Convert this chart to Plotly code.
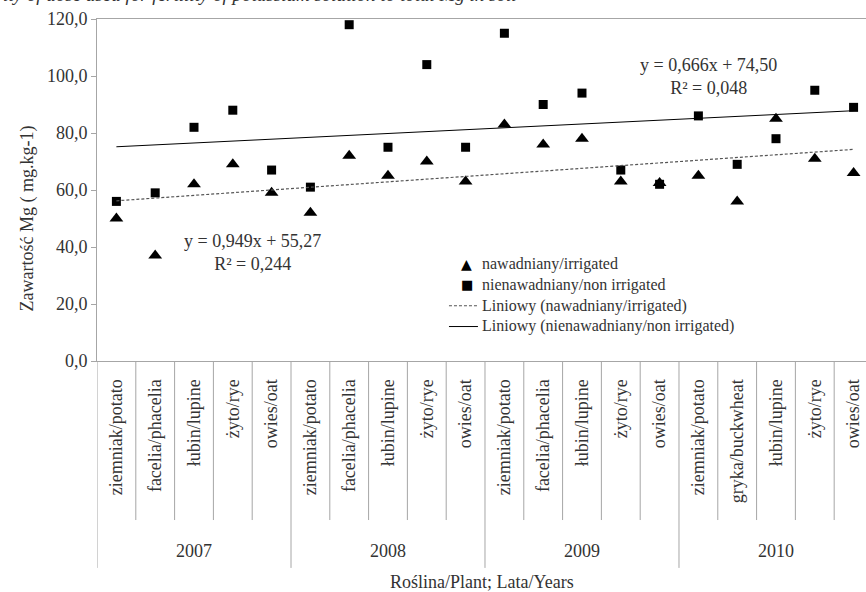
import plotly.graph_objects as go

# Crops per year (categorical x axis, grouped by year)
years = ["2007", "2008", "2009", "2010"]
crops_by_year = [
    ["ziemniak/potato", "facelia/phacelia", "łubin/lupine", "żyto/rye", "owies/oat"],
    ["ziemniak/potato", "facelia/phacelia", "łubin/lupine", "żyto/rye", "owies/oat"],
    ["ziemniak/potato", "facelia/phacelia", "łubin/lupine", "żyto/rye", "owies/oat"],
    ["ziemniak/potato", "gryka/buckwheat", "łubin/lupine", "żyto/rye", "owies/oat"],
]
categories = [c for group in crops_by_year for c in group]

# Mg content, mg.kg-1
irrigated = [50, 37, 62, 69, 59, 52, 72, 65, 70, 63, 83, 76, 78, 63, 62.5, 65, 56, 85, 71, 66]
non_irrigated = [56, 59, 82, 88, 67, 61, 118, 75, 104, 75, 115, 90, 94, 67, 62, 86, 69, 78, 95, 89]

# Linear trend coefficients (x = 1..20)
trend_irr = (0.949, 55.27, 0.244)
trend_non = (0.666, 74.50, 0.048)

y_ticks = [0, 20, 40, 60, 80, 100, 120]

series_names = [
    "nawadniany/irrigated",
    "nienawadniany/non irrigated",
    "Liniowy (nawadniany/irrigated)",
    "Liniowy (nienawadniany/non irrigated)",
]

FONT = "Liberation Serif"
FS = 18
LEG_FS = 16
GREY = "#a6a6a6"
TXT = "#333333"
DOT = dict(color="#555555", width=1.2, dash="3px,2px")
SOLID = dict(color="black", width=1)

idx = list(range(len(categories)))
fig = go.Figure()

fig.add_trace(go.Scatter(
    x=idx, y=irrigated, mode="markers", name=series_names[0],
    marker=dict(symbol="triangle-up", size=12, color="black"),
))
fig.add_trace(go.Scatter(
    x=idx, y=non_irrigated, mode="markers", name=series_names[1],
    marker=dict(symbol="square", size=9, color="black"),
))
fig.add_trace(go.Scatter(
    x=idx, y=[trend_irr[0] * (i + 1) + trend_irr[1] for i in idx], mode="lines",
    name=series_names[2], line=DOT,
))
fig.add_trace(go.Scatter(
    x=idx, y=[trend_non[0] * (i + 1) + trend_non[1] for i in idx], mode="lines",
    name=series_names[3], line=SOLID,
))

def fmt(v, d):
    return f"{v:.{d}f}".replace(".", ",")

def font(size=FS, family=FONT):
    return dict(family=family, size=size, color=TXT)

# Trend equations
fig.add_annotation(x=3.5, y=38.2, xref="x", yref="y", showarrow=False,
                   text=f"y = {fmt(trend_irr[0],3)}x + {fmt(trend_irr[1],2)}<br>R² = {fmt(trend_irr[2],3)}",
                   font=font(), align="center")
fig.add_annotation(x=15.25, y=99.8, xref="x", yref="y", showarrow=False,
                   text=f"y = {fmt(trend_non[0],3)}x + {fmt(trend_non[1],2)}<br>R² = {fmt(trend_non[2],3)}",
                   font=font(), align="center")

# Category dividers and year group dividers below the axis
shapes = []
for k in range(len(categories) + 1):
    is_year = k % 5 == 0
    shapes.append(dict(type="line", xref="x", yref="paper",
                       x0=k - 0.5, x1=k - 0.5, y0=0, y1=-0.605 if is_year else -0.465,
                       line=dict(color=GREY, width=1)))

# Compact legend block inside the plot area (one text block, symbols beside each row)
plot_h = 592 - 19 - 231
row_step = 1.3 * LEG_FS / plot_h
leg_center = 0.192
leg_rows = [leg_center + (1.5 - i) * row_step for i in range(4)]
fig.add_annotation(x=0.498, y=leg_center, xref="paper", yref="paper", showarrow=False,
                   xanchor="left", yanchor="middle", align="left",
                   text="<br>".join(series_names), font=font(LEG_FS))
fig.add_annotation(x=0.481, y=leg_rows[0], xref="paper", yref="paper", showarrow=False,
                   xanchor="center", yanchor="middle", text="▲",
                   font=dict(family="DejaVu Sans", size=14, color="black"))
fig.add_annotation(x=0.481, y=leg_rows[1], xref="paper", yref="paper", showarrow=False,
                   xanchor="center", yanchor="middle", text="■",
                   font=dict(family="DejaVu Sans", size=13, color="black"))
for yy, ln in zip(leg_rows[2:], [DOT, SOLID]):
    shapes.append(dict(type="line", xref="paper", yref="paper",
                       x0=0.4577, x1=0.4954, y0=yy, y1=yy, line=ln))
fig.update_layout(shapes=shapes)

for g, yr in enumerate(years):
    fig.add_annotation(x=g * 5 + 2, y=-0.556, xref="x", yref="paper", showarrow=False,
                       yanchor="middle", xanchor="center", text=yr, font=font())

fig.add_annotation(x=0.5, y=-0.645, xref="paper", yref="paper", showarrow=False,
                   xanchor="center", yanchor="middle",
                   text="Roślina/Plant; Lata/Years", font=font())

# Y axis title, placed a little below the axis midpoint
fig.add_annotation(x=-0.0905, y=0.418, xref="paper", yref="paper", showarrow=False,
                   xanchor="center", yanchor="middle", textangle=-90,
                   text="Zawartość Mg ( mg.kg-1)", font=font())

# Heading line running off the top edge
fig.add_annotation(x=-0.125, y=1.036, xref="paper", yref="paper", showarrow=False,
                   xanchor="left", yanchor="bottom",
                   text="<i>ity of dose used for fertility of potassium solution to total Mg in soil</i>",
                   font=font(19))

fig.update_layout(
    width=866, height=592,
    margin=dict(l=97, r=0, t=19, b=231),
    paper_bgcolor="white", plot_bgcolor="white",
    font=font(),
    showlegend=False,
    xaxis=dict(range=[-0.5, 19.32], tickmode="array", tickvals=idx, ticktext=categories,
               tickangle=-90, showgrid=False, zeroline=False, showline=True, linecolor=GREY,
               mirror=True, ticks="", ticklabelstandoff=10, tickfont=font()),
    yaxis=dict(range=[0, 120], tickmode="array", tickvals=y_ticks,
               ticktext=[fmt(v, 1) for v in y_ticks], showgrid=False, zeroline=False,
               showline=True, linecolor=GREY, ticks="outside", ticklen=5, tickcolor=GREY,
               tickfont=font()),
)

fig.write_html("out.html")
